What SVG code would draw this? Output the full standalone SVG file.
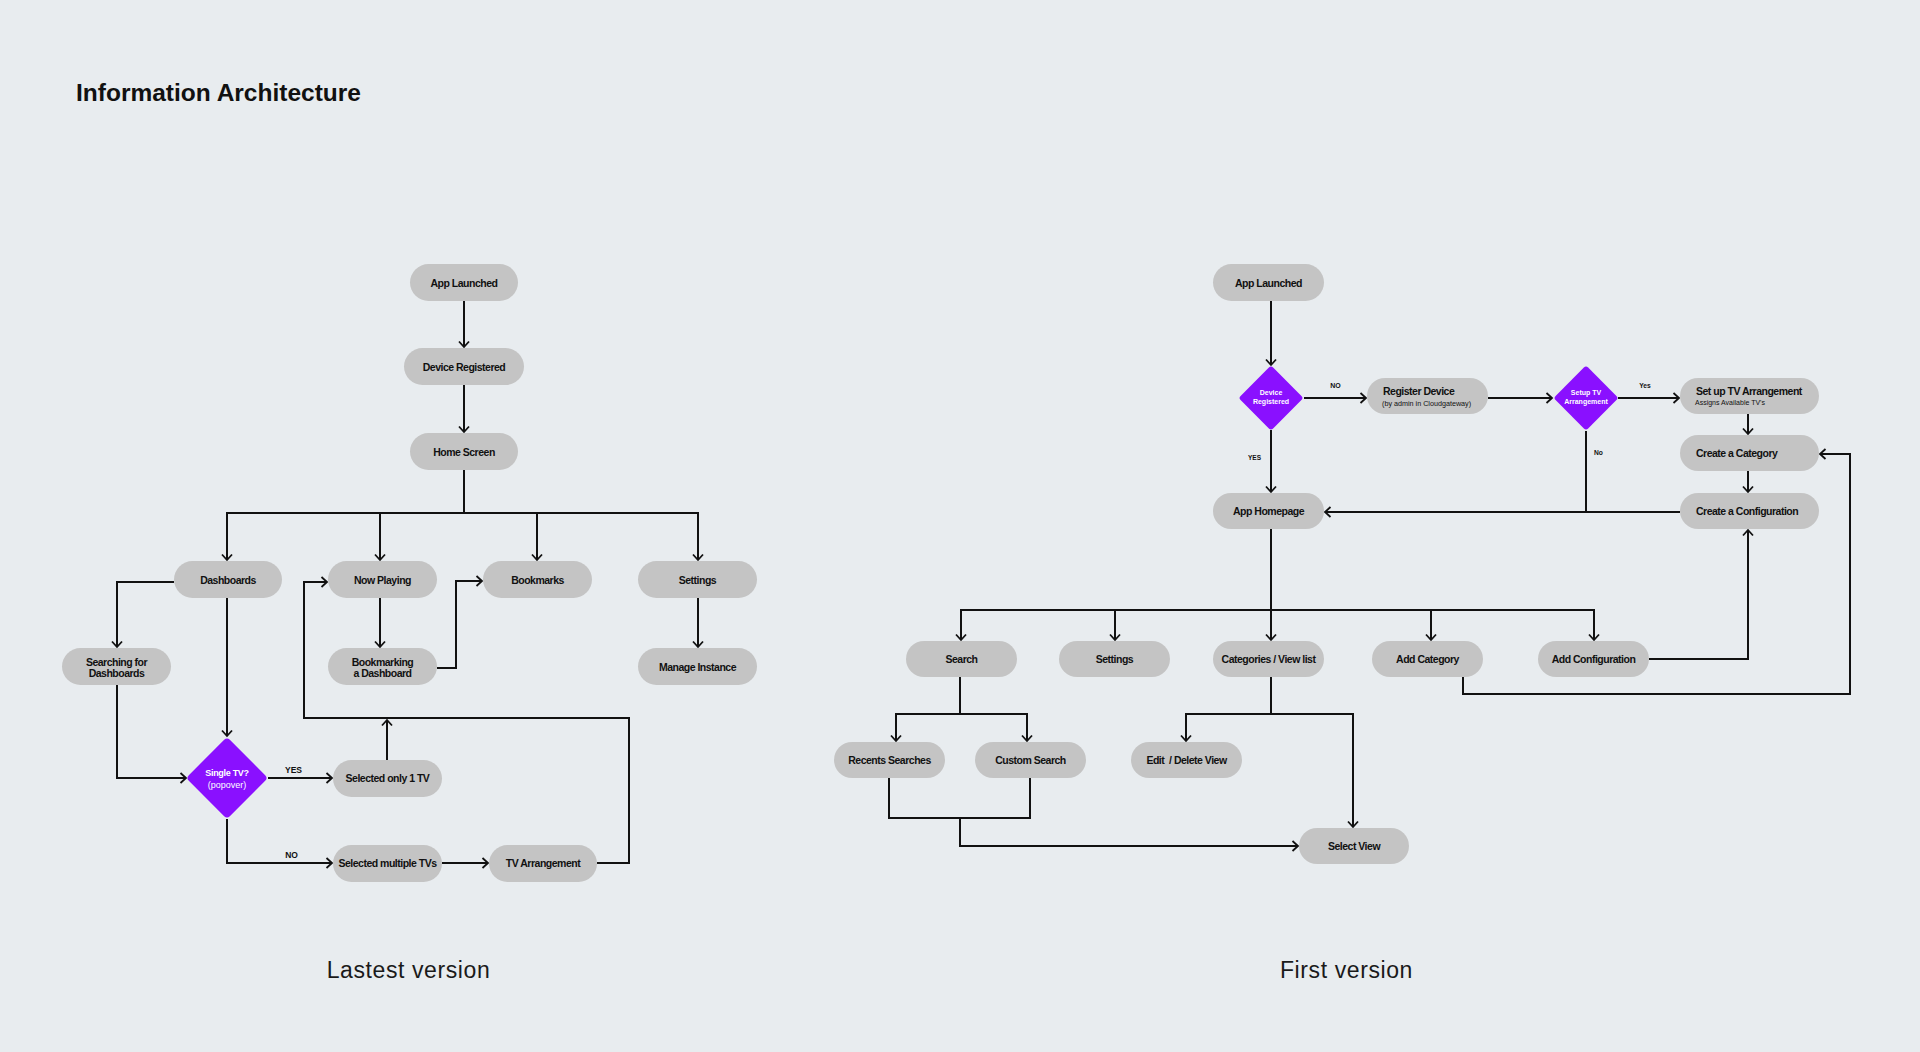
<svg xmlns="http://www.w3.org/2000/svg" width="1920" height="1052" viewBox="0 0 1920 1052">
<style>
.bg{fill:#E8ECEF}
.pill{fill:#C4C4C4}
.dia{fill:#8A10FF}
.t{font-family:'Liberation Sans',Arial,sans-serif;font-weight:700;font-size:10.5px;letter-spacing:-0.5px;fill:#111;text-anchor:middle}
.tl{font-family:'Liberation Sans',Arial,sans-serif;font-weight:700;font-size:10.5px;letter-spacing:-0.5px;fill:#111;text-anchor:start}
.sub{font-family:'Liberation Sans',Arial,sans-serif;font-weight:400;fill:#111;text-anchor:start}
.dt{font-family:'Liberation Sans',Arial,sans-serif;font-weight:700;font-size:7px;fill:#fff;text-anchor:middle}
.dtb{font-family:'Liberation Sans',Arial,sans-serif;font-weight:700;font-size:9px;letter-spacing:-0.3px;fill:#fff;text-anchor:middle}
.dtr{font-family:'Liberation Sans',Arial,sans-serif;font-weight:400;font-size:9px;fill:#fff;text-anchor:middle}
.lbl{font-family:'Liberation Sans',Arial,sans-serif;font-weight:700;fill:#111;text-anchor:middle}
.ln{fill:none;stroke:#111;stroke-width:2}
.ar{marker-end:url(#ah)}
.cap{font-family:'Liberation Sans',Arial,sans-serif;font-weight:400;font-size:23px;letter-spacing:0.6px;fill:#1a1a1a;text-anchor:middle}
</style>
<defs>
<marker id="ah" viewBox="-8 -7 10 14" refX="0" refY="0" markerWidth="10" markerHeight="14" markerUnits="userSpaceOnUse" orient="auto" overflow="visible">
<path d="M-5.5,-5 L0,0 L-5.5,5" fill="none" stroke="#111" stroke-width="1.8"/>
</marker>
</defs>
<rect class="bg" x="0" y="0" width="1920" height="1052"/>
<text x="76" y="101" font-family="'Liberation Sans',Arial,sans-serif" font-weight="700" font-size="24.5" fill="#111">Information Architecture</text>

<g id="connectors">
<!-- left -->
<path class="ln ar" d="M464,301 V347"/>
<path class="ln ar" d="M464,385 V432"/>
<path class="ln ar" d="M464,470 V513 H227 V560"/>
<path class="ln ar" d="M464,513 H380 V560"/>
<path class="ln ar" d="M464,513 H537 V560"/>
<path class="ln ar" d="M537,513 H698 V560"/>
<path class="ln ar" d="M174,582 H117 V647"/>
<path class="ln ar" d="M227,598 V736"/>
<path class="ln ar" d="M117,685 V778 H186"/>
<path class="ln ar" d="M380,598 V647"/>
<path class="ln ar" d="M437,668 H456 V581 H482"/>
<path class="ln ar" d="M698,598 V647"/>
<path class="ln ar" d="M268,778 H332"/>
<path class="ln ar" d="M387,760 V720"/>
<path class="ln ar" d="M227,819 V863 H332"/>
<path class="ln ar" d="M442,863 H488"/>
<path class="ln ar" d="M597,863 H629 V718 H304 V582 H327"/>
<!-- right -->
<path class="ln ar" d="M1271,301 V365"/>
<path class="ln ar" d="M1304,398 H1366"/>
<path class="ln ar" d="M1488,398 H1552"/>
<path class="ln ar" d="M1618,398 H1679"/>
<path class="ln ar" d="M1748,414 V434"/>
<path class="ln ar" d="M1748,471 V492"/>
<path class="ln ar" d="M1271,430 V492"/>
<path class="ln" d="M1586,431 V512"/>
<path class="ln ar" d="M1680,512 H1325"/>
<path class="ln ar" d="M1271,529 V640"/>
<path class="ln ar" d="M1271,610 H961 V640"/>
<path class="ln ar" d="M1271,610 H1594 V640"/>
<path class="ln ar" d="M1115,610 V640"/>
<path class="ln ar" d="M1431,610 V640"/>
<path class="ln ar" d="M960,677 V714 H896 V741"/>
<path class="ln ar" d="M960,714 H1027 V741"/>
<path class="ln ar" d="M1271,677 V714 H1186 V741"/>
<path class="ln ar" d="M1271,714 H1353 V827"/>
<path class="ln" d="M889,778 V818 H1030 V778"/>
<path class="ln ar" d="M960,818 V846 H1298"/>
<path class="ln ar" d="M1649,659 H1748 V530"/>
<path class="ln ar" d="M1463,677 V694 H1850 V454 H1820"/>
<!-- labels -->
<text class="lbl" x="293.5" y="773" font-size="8.5">YES</text>
<text class="lbl" x="291.5" y="858" font-size="8.5">NO</text>
<text class="lbl" x="1335.5" y="388" font-size="7">NO</text>
<text class="lbl" x="1254.5" y="460" font-size="6.5">YES</text>
<text class="lbl" x="1645" y="388" font-size="6.7">Yes</text>
<text class="lbl" x="1598.5" y="455" font-size="6.7">No</text>
</g>

<!-- LEFT nodes -->
<g id="l-app-launched"><rect class="pill" x="410" y="264" width="108" height="37" rx="18.5"/><text class="t" x="464" y="286.5">App Launched</text></g>
<g id="l-device-registered"><rect class="pill" x="404" y="348" width="120" height="37" rx="18.5"/><text class="t" x="464" y="370.5">Device Registered</text></g>
<g id="l-home-screen"><rect class="pill" x="410" y="433" width="108" height="37" rx="18.5"/><text class="t" x="464" y="455.5">Home Screen</text></g>
<g id="l-dashboards"><rect class="pill" x="174" y="561" width="108" height="37" rx="18.5"/><text class="t" x="228" y="583.5">Dashboards</text></g>
<g id="l-now-playing"><rect class="pill" x="328" y="561" width="109" height="37" rx="18.5"/><text class="t" x="382.5" y="583.5">Now Playing</text></g>
<g id="l-bookmarks"><rect class="pill" x="483" y="561" width="109" height="37" rx="18.5"/><text class="t" x="537.5" y="583.5">Bookmarks</text></g>
<g id="l-settings"><rect class="pill" x="638" y="561" width="119" height="37" rx="18.5"/><text class="t" x="697.5" y="583.5">Settings</text></g>
<g id="l-searching"><rect class="pill" x="62" y="648" width="109" height="37" rx="18.5"/><text class="t" x="116.5" y="665.5">Searching for</text><text class="t" x="116.5" y="677">Dashboards</text></g>
<g id="l-bookmarking"><rect class="pill" x="328" y="648" width="109" height="37" rx="18.5"/><text class="t" x="382.5" y="665.5">Bookmarking</text><text class="t" x="382.5" y="677">a Dashboard</text></g>
<g id="l-manage-instance"><rect class="pill" x="638" y="648" width="119" height="37" rx="18.5"/><text class="t" x="697.5" y="670.5">Manage Instance</text></g>
<g id="l-single-tv"><rect class="dia" x="-29" y="-29" width="58" height="58" rx="4" transform="translate(227 778) rotate(45)"/><text class="dtb" x="227" y="776">Single TV?</text><text class="dtr" x="227" y="787.5">(popover)</text></g>
<g id="l-selected-one"><rect class="pill" x="333" y="760" width="109" height="37" rx="18.5"/><text class="t" x="387.5" y="782">Selected only 1 TV</text></g>
<g id="l-selected-multiple"><rect class="pill" x="333" y="845" width="109" height="37" rx="18.5"/><text class="t" x="387.5" y="867">Selected multiple TVs</text></g>
<g id="l-tv-arrangement"><rect class="pill" x="489" y="845" width="108" height="37" rx="18.5"/><text class="t" x="543" y="867">TV Arrangement</text></g>

<!-- RIGHT nodes -->
<g id="r-app-launched"><rect class="pill" x="1213" y="264" width="111" height="37" rx="18.5"/><text class="t" x="1268.5" y="286.5">App Launched</text></g>
<g id="r-device-registered"><rect class="dia" x="-23" y="-23" width="46" height="46" rx="3" transform="translate(1271 398) rotate(45)"/><text class="dt" x="1271" y="394.5">Device</text><text class="dt" x="1271" y="403.5">Registered</text></g>
<g id="r-register-device"><rect class="pill" x="1367" y="378" width="121" height="36" rx="18"/><text class="tl" x="1383" y="395">Register Device</text><text class="sub" x="1382" y="405.5" font-size="7.2">(by admin in Cloudgateway)</text></g>
<g id="r-setup-tv"><rect class="dia" x="-23" y="-23" width="46" height="46" rx="3" transform="translate(1586 398) rotate(45)"/><text class="dt" x="1586" y="394.5">Setup TV</text><text class="dt" x="1586" y="404">Arrangement</text></g>
<g id="r-setup-arrangement"><rect class="pill" x="1680" y="378" width="139" height="36" rx="18"/><text class="tl" x="1696" y="395">Set up TV Arrangement</text><text class="sub" x="1695" y="405" font-size="7">Assigns Available TV's</text></g>
<g id="r-create-category"><rect class="pill" x="1680" y="435" width="139" height="36" rx="18"/><text class="tl" x="1696" y="456.5">Create a Category</text></g>
<g id="r-create-configuration"><rect class="pill" x="1680" y="493" width="139" height="36" rx="18"/><text class="tl" x="1696" y="514.5">Create a Configuration</text></g>
<g id="r-app-homepage"><rect class="pill" x="1213" y="493" width="111" height="36" rx="18"/><text class="t" x="1268.5" y="514.5">App Homepage</text></g>
<g id="r-search"><rect class="pill" x="906" y="641" width="111" height="36" rx="18"/><text class="t" x="961.5" y="662.5">Search</text></g>
<g id="r-settings"><rect class="pill" x="1059" y="641" width="111" height="36" rx="18"/><text class="t" x="1114.5" y="662.5">Settings</text></g>
<g id="r-categories"><rect class="pill" x="1213" y="641" width="111" height="36" rx="18"/><text class="t" x="1268.5" y="662.5">Categories / View list</text></g>
<g id="r-add-category"><rect class="pill" x="1372" y="641" width="111" height="36" rx="18"/><text class="t" x="1427.5" y="662.5">Add Category</text></g>
<g id="r-add-configuration"><rect class="pill" x="1538" y="641" width="111" height="36" rx="18"/><text class="t" x="1593.5" y="662.5">Add Configuration</text></g>
<g id="r-recents"><rect class="pill" x="834" y="742" width="111" height="36" rx="18"/><text class="t" x="889.5" y="763.5">Recents Searches</text></g>
<g id="r-custom-search"><rect class="pill" x="975" y="742" width="111" height="36" rx="18"/><text class="t" x="1030.5" y="763.5">Custom Search</text></g>
<g id="r-edit-delete"><rect class="pill" x="1131" y="742" width="111" height="36" rx="18"/><text class="t" x="1186.5" y="763.5" xml:space="preserve">Edit  / Delete View</text></g>
<g id="r-select-view"><rect class="pill" x="1299" y="828" width="110" height="36" rx="18"/><text class="t" x="1354" y="849.5">Select View</text></g>

<text class="cap" x="408.5" y="978">Lastest version</text>
<text class="cap" x="1346.5" y="978">First version</text>
</svg>
